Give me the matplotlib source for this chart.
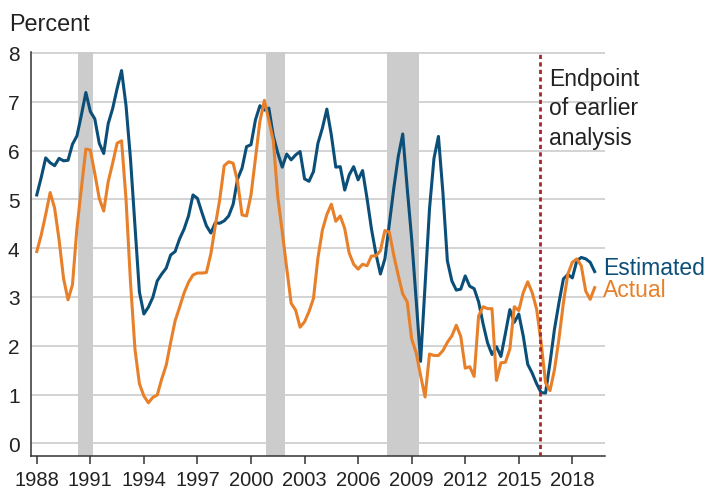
import numpy as np
import matplotlib.pyplot as plt

# quarterly values, 1988 Q1 - 2019 Q2
estimated = [5.09, 5.45, 5.85, 5.75,
             5.69, 5.84, 5.79, 5.80,
             6.13, 6.30, 6.73, 7.19,
             6.80, 6.65, 6.15, 5.94,
             6.55, 6.86, 7.27, 7.64,
             6.92, 5.83, 4.46, 3.10,
             2.65, 2.79, 2.99, 3.33,
             3.47, 3.59, 3.86, 3.93,
             4.19, 4.39, 4.66, 5.09,
             5.02, 4.73, 4.46, 4.31,
             4.52, 4.51, 4.56, 4.66,
             4.90, 5.42, 5.64, 6.08,
             6.12, 6.63, 6.92, 6.83,
             6.87, 6.30, 5.95, 5.66,
             5.93, 5.81, 5.91, 5.98,
             5.42, 5.37, 5.57, 6.15,
             6.46, 6.85, 6.32, 5.66,
             5.67, 5.19, 5.50, 5.67,
             5.40, 5.59, 5.02, 4.39,
             3.88, 3.47, 3.78, 4.50,
             5.23, 5.88, 6.34, 5.23,
             4.19, 2.95, 1.68, 3.23,
             4.81, 5.84, 6.29, 5.14,
             3.74, 3.33, 3.14, 3.16,
             3.43, 3.22, 3.17, 2.90,
             2.45, 2.06, 1.82, 1.98,
             1.78, 2.25, 2.74, 2.48,
             2.65, 2.20, 1.62, 1.44,
             1.22, 1.04, 1.03, 1.65,
             2.34, 2.88, 3.37, 3.46,
             3.39, 3.74, 3.81, 3.78,
             3.71, 3.52]
actual = [3.93, 4.27, 4.69, 5.14,
          4.82, 4.17, 3.38, 2.94,
          3.25, 4.41, 5.23, 6.03,
          6.01, 5.53, 5.02, 4.76,
          5.36, 5.74, 6.15, 6.20,
          5.00, 3.30, 1.93, 1.22,
          0.97, 0.83, 0.94, 0.99,
          1.32, 1.60, 2.07, 2.51,
          2.79, 3.08, 3.30, 3.45,
          3.49, 3.49, 3.50, 3.88,
          4.46, 5.00, 5.69, 5.77,
          5.74, 5.36, 4.68, 4.66,
          5.09, 5.84, 6.60, 7.03,
          6.62, 6.20, 5.05, 4.34,
          3.59, 2.87, 2.73, 2.38,
          2.49, 2.70, 2.97, 3.80,
          4.37, 4.69, 4.90, 4.55,
          4.66, 4.40, 3.90, 3.67,
          3.57, 3.67, 3.64, 3.84,
          3.84, 3.95, 4.36, 4.33,
          3.85, 3.44, 3.06, 2.90,
          2.14, 1.86, 1.39, 0.95,
          1.83, 1.80, 1.80, 1.90,
          2.07, 2.20, 2.42, 2.19,
          1.54, 1.57, 1.37, 2.61,
          2.80, 2.76, 2.76, 1.29,
          1.65, 1.66, 1.93, 2.80,
          2.72, 3.09, 3.31, 3.09,
          2.75, 2.07, 1.24, 1.08,
          1.51, 2.14, 2.88, 3.47,
          3.71, 3.78, 3.64, 3.12,
          2.95, 3.19]
recessions = [(1990.3, 1991.15), (2000.85, 2001.9), (2007.6, 2009.4)]
endpoint = 2016.2
year_ticks = [1988, 1991, 1994, 1997, 2000, 2003, 2006, 2009, 2012, 2015, 2018]

t = 1988 + np.arange(len(estimated)) / 4

plt.rcParams['font.family'] = ['Liberation Sans', 'DejaVu Sans']
blue = '#0b4f79'
orange = '#e8802a'

fig = plt.figure(figsize=(7.09, 4.89), dpi=100)
ax = fig.add_axes([30.7/709, 1-457/489, (605-30.7)/709, 404/489])

for a, b in recessions:
    ax.axvspan(a, b, color='#cccccc', lw=0, zorder=0)

ax.plot(t, estimated, color=blue, lw=2.2, zorder=3)
ax.plot(t, actual, color=orange, lw=2.2, zorder=3)
ax.axvline(endpoint, color='#a3282d', lw=2, ls=(0, (1.5, 1.2)), zorder=4)

ax.set_xlim(1987.66, 2019.83)
ax.set_ylim(-0.26, 8.02)
ax.set_yticks(range(0, 9))
ax.set_xticks(year_ticks)
ax.grid(axis='y', color='#cccccc', lw=1.2)
ax.set_axisbelow(True)
for s in ['top', 'right']:
    ax.spines[s].set_visible(False)
for s in ['left', 'bottom']:
    ax.spines[s].set_color('#333333')
    ax.spines[s].set_linewidth(1.1)
ax.tick_params(axis='y', length=0, pad=8, labelsize=15, labelcolor='#222222')
ax.tick_params(axis='x', length=6, width=1.1, color='#333333', pad=4,
               labelsize=14.5, labelcolor='#222222')

fig.text(9/709, 1-31/489, 'Percent', fontsize=16.8, color='#222222', va='baseline')
ax.text(2016.71, 7.72, 'Endpoint\nof earlier\nanalysis', fontsize=16.5,
        color='#222222', va='top', ha='left', linespacing=1.36)
ax.text(2019.72, 3.61, 'Estimated', fontsize=16.5, color=blue, va='center',
        clip_on=False)
ax.text(2019.72, 3.15, 'Actual', fontsize=16.5, color=orange, va='center',
        clip_on=False)

plt.savefig('out.png', dpi=100)
